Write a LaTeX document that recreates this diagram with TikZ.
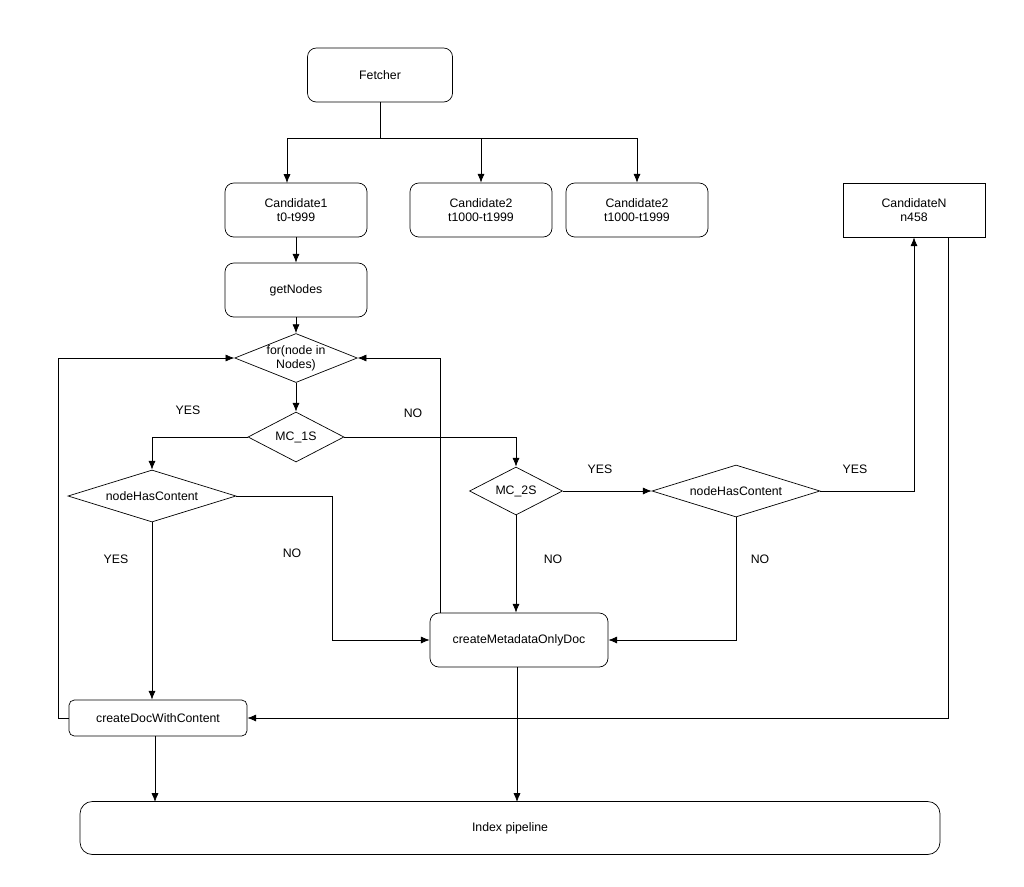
\documentclass[tikz,border=0pt]{standalone}
\usepackage{fontspec}
\setmainfont{Liberation Sans}
\usetikzlibrary{shapes.geometric,arrows.meta}
\begin{document}
\begin{tikzpicture}[x=0.02cm,y=-0.02cm,%
% common options for boxes:
box/.style = {draw, rounded corners=5pt, align=center, inner sep=0,
            font=\fontsize{7}{8}\selectfont},
% common options for the decisions:
choice/.style = {diamond, draw, aspect=2.5, align=center, inner sep=0,
            font=\fontsize{7}{8}\selectfont},
lbl/.style = {font=\fontsize{7}{8}\selectfont},
flow/.style = {-{Latex[length=5pt,width=4pt]}, thin}]
\useasboundingbox (0,0) rectangle (1024,886);
\node[box,minimum width=145*0.02cm,minimum height=54*0.02cm] (fetch) at (380,75) {Fetcher};
\node[box,minimum width=142*0.02cm,minimum height=54*0.02cm] (cand1) at (296,210) {Candidate1\\t0-t999};
\node[box,minimum width=142*0.02cm,minimum height=54*0.02cm] (cand2) at (481,210) {Candidate2\\t1000-t1999};
\node[box,minimum width=142*0.02cm,minimum height=54*0.02cm] (cand3) at (637,210) {Candidate2\\t1000-t1999};
\node[box,rounded corners=0,minimum width=142*0.02cm,minimum height=54*0.02cm] (candN) at (914,210) {CandidateN\\n458};
\node[box,minimum width=142*0.02cm,minimum height=54*0.02cm] (getn) at (296,290) {getNodes};
\node[choice,minimum width=118*0.02cm,minimum height=46*0.02cm] (loop) at (296,358) {for(node in\\Nodes)};
\node[choice,minimum width=96*0.02cm,minimum height=50*0.02cm] (mc1) at (296,437) {MC\_1S};
\node[choice,minimum width=168*0.02cm,minimum height=52*0.02cm] (hasL) at (152,496) {nodeHasContent};
\node[choice,minimum width=93*0.02cm,minimum height=48*0.02cm] (mc2) at (516,491) {MC\_2S};
\node[choice,minimum width=168*0.02cm,minimum height=52*0.02cm] (hasR) at (736,491) {nodeHasContent};
\node[box,minimum width=178*0.02cm,minimum height=54*0.02cm] (meta) at (519,640) {createMetadataOnlyDoc};
\node[box,rounded corners=3pt,minimum width=178*0.02cm,minimum height=36*0.02cm] (withc) at (158,718) {createDocWithContent};
\node[box,rounded corners=7pt,minimum width=860*0.02cm,minimum height=53*0.02cm] (index) at (510,828) {Index pipeline};
\coordinate (split) at (380,138);
\draw[thin] (fetch.south) -- (split);
\draw[flow] (split) -| (287,183);
\draw[flow] (split) -| (cand2.north);
\draw[flow] (split) -| (cand3.north);
\draw[flow] (cand1) -- (getn);
\draw[flow] (getn) -- (loop);
\draw[flow] (loop) -- (mc1);
\draw[flow] (mc1.west) -| (hasL.north);
\draw[flow] (mc1.east) -| (mc2.north);
\draw[flow] (mc2.east) -- (hasR.west);
\draw[flow] (mc2.south) -- (meta.north -| mc2.south);
\draw[flow] (hasR.east) -| (candN.south);
\draw[flow] (hasR.south) |- (meta.east);
\draw[flow] (hasL.east) -- (332,496) |- (meta.west);
\draw[flow] (hasL.south) -- (withc.north -| hasL.south);
\draw[flow] (440,613) |- (loop.east);
\draw[flow] (withc.west) -- (58,718) |- (loop.west);
\draw[flow] (948,237) |- (withc.east);
\draw[flow] (155,736) -- (155,802);
\draw[flow] (517,667) -- (517,802);
\node[lbl] (y1) at (188,410) {YES};
\node[lbl] (n1) at (413,413) {NO};
\node[lbl] (y2) at (600,469) {YES};
\node[lbl] (y3) at (855,469) {YES};
\node[lbl] (n2) at (553,559) {NO};
\node[lbl] (n3) at (760,559) {NO};
\node[lbl] (n4) at (292,553) {NO};
\node[lbl] (y4) at (116,559) {YES};
\end{tikzpicture}
\end{document}
